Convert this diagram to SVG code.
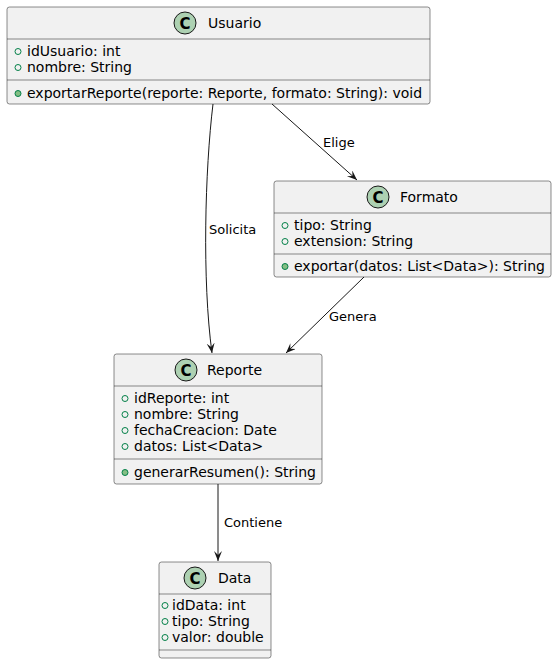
<svg xmlns="http://www.w3.org/2000/svg" width="557" height="664" viewBox="0 0 557 664">
<defs>
<style>
.box{fill:#F1F1F1;stroke:#181818;stroke-width:0.5}
.sep{stroke:#181818;stroke-width:0.5}
.circ{fill:#ADD1B2;stroke:#181818;stroke-width:1}
.cl{font-family:"DejaVu Sans",sans-serif;font-size:14px;fill:#000}
.c{font-family:"DejaVu Sans",sans-serif;font-size:15px;font-weight:bold;fill:#000}
.at{font-family:"DejaVu Sans",sans-serif;font-size:14px;fill:#000}
.lb{font-family:"DejaVu Sans",sans-serif;font-size:13px;fill:#000}
.fi{fill:none;stroke:#038048;stroke-width:1}
.me{fill:#84BE84;stroke:#038048;stroke-width:1}
.edge{fill:none;stroke:#181818;stroke-width:1}
</style>
<marker id="arr" markerWidth="12" markerHeight="10" refX="10" refY="4" orient="auto" markerUnits="userSpaceOnUse">
<path d="M0,0 L10,4 L0,8 L4,4 Z" fill="#181818"/>
</marker>
</defs>
<rect width="557" height="664" fill="#FFFFFF"/>
<g id="Usuario">
<rect class="box" x="7" y="7" width="423" height="97" rx="2.5"/>
<circle class="circ" cx="185" cy="23" r="11"/>
<text class="c" x="185" y="28.5" text-anchor="middle">C</text>
<text class="cl" x="208" y="28">Usuario</text>
<line class="sep" x1="7" y1="39" x2="430" y2="39"/>
<circle class="fi" cx="18" cy="51.5" r="3"/>
<text class="at" x="27" y="56">idUsuario: int</text>
<circle class="fi" cx="18" cy="67.5" r="3"/>
<text class="at" x="27" y="72">nombre: String</text>
<line class="sep" x1="7" y1="80" x2="430" y2="80"/>
<circle class="me" cx="18" cy="93.5" r="3"/>
<text class="at" x="27" y="98">exportarReporte(reporte: Reporte, formato: String): void</text>
</g>
<g id="Formato">
<rect class="box" x="274" y="181" width="277" height="96" rx="2.5"/>
<circle class="circ" cx="378" cy="197" r="11"/>
<text class="c" x="378" y="202.5" text-anchor="middle">C</text>
<text class="cl" x="400" y="202">Formato</text>
<line class="sep" x1="274" y1="213" x2="551" y2="213"/>
<circle class="fi" cx="285" cy="225.5" r="3"/>
<text class="at" x="294" y="230">tipo: String</text>
<circle class="fi" cx="285" cy="241.5" r="3"/>
<text class="at" x="294" y="246">extension: String</text>
<line class="sep" x1="274" y1="254" x2="551" y2="254"/>
<circle class="me" cx="285" cy="266.5" r="3"/>
<text class="at" x="294" y="271">exportar(datos: List&lt;Data&gt;): String</text>
</g>
<g id="Reporte">
<rect class="box" x="114" y="354" width="208" height="130" rx="2.5"/>
<circle class="circ" cx="186" cy="370" r="11"/>
<text class="c" x="186" y="375.5" text-anchor="middle">C</text>
<text class="cl" x="207" y="375">Reporte</text>
<line class="sep" x1="114" y1="386" x2="322" y2="386"/>
<circle class="fi" cx="125" cy="398.5" r="3"/>
<text class="at" x="134" y="403">idReporte: int</text>
<circle class="fi" cx="125" cy="414.5" r="3"/>
<text class="at" x="134" y="419">nombre: String</text>
<circle class="fi" cx="125" cy="430.5" r="3"/>
<text class="at" x="134" y="435">fechaCreacion: Date</text>
<circle class="fi" cx="125" cy="446.5" r="3"/>
<text class="at" x="134" y="451">datos: List&lt;Data&gt;</text>
<line class="sep" x1="114" y1="459" x2="322" y2="459"/>
<circle class="me" cx="125" cy="472.5" r="3"/>
<text class="at" x="134" y="477">generarResumen(): String</text>
</g>
<g id="Data">
<rect class="box" x="159" y="562" width="112" height="96" rx="2.5"/>
<circle class="circ" cx="195" cy="578" r="11"/>
<text class="c" x="195" y="583.5" text-anchor="middle">C</text>
<text class="cl" x="218" y="583">Data</text>
<line class="sep" x1="159" y1="594" x2="271" y2="594"/>
<circle class="fi" cx="165" cy="605.5" r="3"/>
<text class="at" x="172" y="610">idData: int</text>
<circle class="fi" cx="165" cy="621.5" r="3"/>
<text class="at" x="172" y="626">tipo: String</text>
<circle class="fi" cx="165" cy="637.5" r="3"/>
<text class="at" x="172" y="642">valor: double</text>
<line class="sep" x1="159" y1="650" x2="271" y2="650"/>
</g>
<g id="connectors">
<path class="edge" d="M213,104 C205,170 202,280 212,353" marker-end="url(#arr)"/>
<text class="lb" x="209" y="234">Solicita</text>
<path class="edge" d="M272,104 L357,180" marker-end="url(#arr)"/>
<text class="lb" x="323" y="147">Elige</text>
<path class="edge" d="M364,277 L286,353" marker-end="url(#arr)"/>
<text class="lb" x="329" y="321">Genera</text>
<path class="edge" d="M218,484 L218,561" marker-end="url(#arr)"/>
<text class="lb" x="224" y="527">Contiene</text>
</g>
</svg>
